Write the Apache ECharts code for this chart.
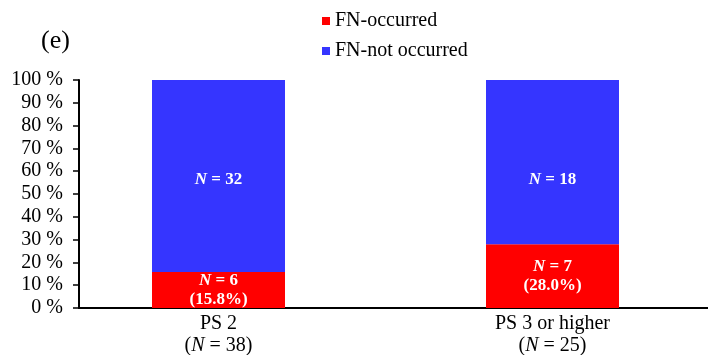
<!DOCTYPE html>
<html>
<head>
<meta charset="utf-8">
<script src="https://cdn.jsdelivr.net/npm/echarts@6/dist/echarts.min.js"></script>
<style>html,body{margin:0;padding:0;background:#fff}#c{width:708px;height:355px}</style>
</head>
<body>
<div id="c"></div>
<script>
const categories = ['PS 2', 'PS 3 or higher'];
const totals = [38, 25];
const occurred = [6, 7];
const notOccurred = [32, 18];
const seriesNames = ['FN-occurred', 'FN-not occurred'];
const yMin = 0, yMax = 100, yInterval = 10;

const FONT = 'Liberation Serif';
const pctOcc = occurred.map((v, i) => v / totals[i] * 100);
const pctNot = notOccurred.map((v, i) => v / totals[i] * 100);

const labelRich = {
  i: { fontFamily: FONT, fontStyle: 'italic', fontWeight: 'bold', fontSize: 17, color: '#fff', lineHeight: 19 },
  b: { fontFamily: FONT, fontWeight: 'bold', fontSize: 17, color: '#fff', lineHeight: 19 }
};

const chart = echarts.init(document.getElementById('c'));
chart.setOption({
  animation: false,
  title: {
    text: '(e)', left: 36, top: 23,
    textStyle: { fontFamily: FONT, fontSize: 26, fontWeight: 'normal', color: '#000' }
  },
  legend: {
    orient: 'vertical', left: 317, top: 6, itemGap: 10,
    icon: 'rect', itemWidth: 8, itemHeight: 8,
    textStyle: { fontFamily: FONT, fontSize: 20, color: '#000' },
    data: seriesNames
  },
  grid: [
    { left: 51.5, width: 668, top: 80, bottom: 47, outerBoundsMode: 'none', containLabel: false },
    { left: 79, right: 0, top: 80, bottom: 47, outerBoundsMode: 'none', containLabel: false }
  ],
  xAxis: [
    {
      type: 'category', gridIndex: 0, data: categories,
      axisLine: { show: false }, axisTick: { show: false },
      axisLabel: {
        margin: 5, lineHeight: 22,
        formatter: (v, idx) => '{a|' + v + '}\n{a|(}{i|N}{a| = ' + totals[idx] + ')}',
        rich: {
          a: { fontFamily: FONT, fontSize: 20, color: '#000', lineHeight: 22 },
          i: { fontFamily: FONT, fontSize: 20, fontStyle: 'italic', color: '#000', lineHeight: 22 }
        }
      }
    },
    {
      type: 'value', gridIndex: 1, min: 0, max: 1,
      axisLine: { show: true, lineStyle: { color: '#000', width: 2 } },
      axisTick: { show: false }, axisLabel: { show: false }, splitLine: { show: false }
    }
  ],
  yAxis: [
    { type: 'value', gridIndex: 0, min: yMin, max: yMax, show: false },
    {
      type: 'value', gridIndex: 1, min: yMin, max: yMax, interval: yInterval,
      axisLine: { show: true, lineStyle: { color: '#000', width: 2 } },
      axisTick: { show: true, length: 6, lineStyle: { color: '#000', width: 1.5 } },
      axisLabel: { formatter: '{value} %', margin: 16, fontFamily: FONT, fontSize: 20, color: '#000' },
      splitLine: { show: false }
    }
  ],
  series: [
    {
      name: seriesNames[0], type: 'bar', stack: 's', xAxisIndex: 0, yAxisIndex: 0,
      barWidth: 133, itemStyle: { color: '#ff0000' },
      data: pctOcc,
      label: {
        show: true, position: 'inside',
        formatter: p => '{i|N}{b| = ' + occurred[p.dataIndex] + '}\n{b|(' + pctOcc[p.dataIndex].toFixed(1) + '%)}',
        rich: labelRich
      }
    },
    {
      name: seriesNames[1], type: 'bar', stack: 's', xAxisIndex: 0, yAxisIndex: 0,
      barWidth: 133, itemStyle: { color: '#3535ff' },
      data: pctNot,
      label: {
        show: true, position: 'insideTop', distance: 90,
        formatter: p => '{i|N}{b| = ' + notOccurred[p.dataIndex] + '}',
        rich: labelRich
      }
    }
  ]
});
</script>
</body>
</html>
